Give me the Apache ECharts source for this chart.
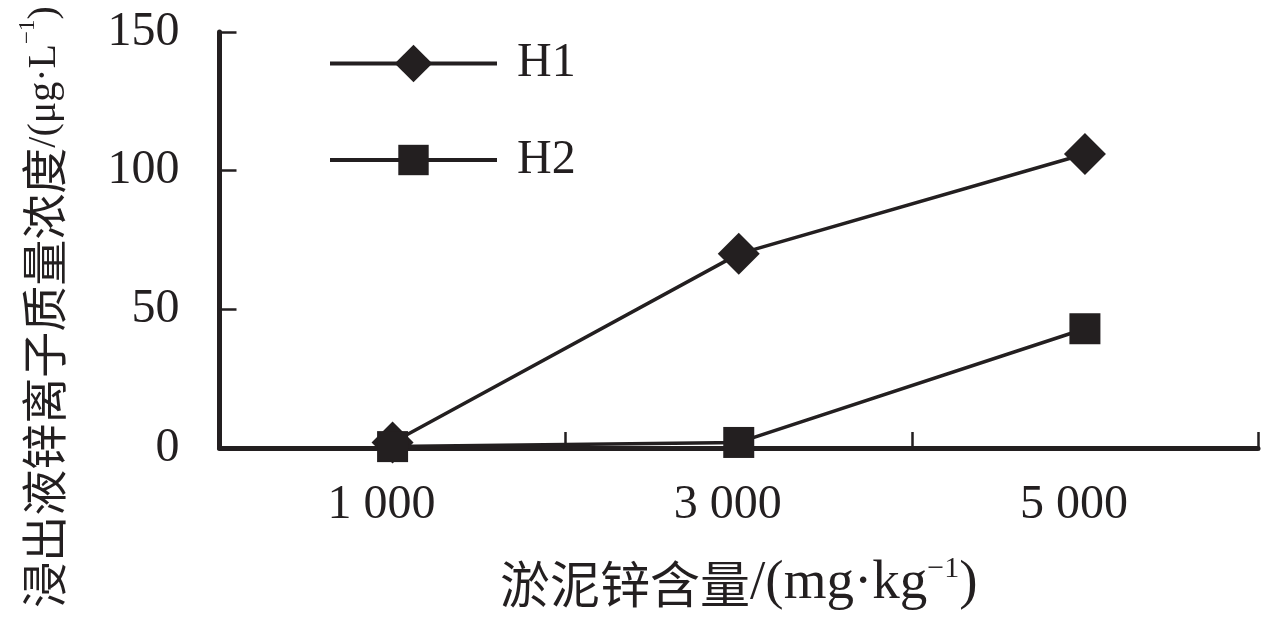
<!DOCTYPE html>
<html>
<head>
<meta charset="utf-8">
<script src="https://cdn.jsdelivr.net/npm/echarts@6/dist/echarts.min.js"></script>
<style>html,body{margin:0;padding:0;background:#fff}#c{width:1280px;height:620px}</style>
</head>
<body>
<div id="c"></div>
<script>
const categories = ['1 000', '3 000', '5 000'];
const seriesNames = ['H1', 'H2'];
const h1Values = [2, 70, 106];
const h2Values = [0.5, 2, 43];
const yTicks = { min: 0, max: 150, interval: 50 };
const xAxisTitle = '{cn|淤泥锌含量}{en|/(mg·kg}{sup|−1}{en|)}';
const yAxisTitle = '{cn|浸出液锌离子质量浓度}{en|/(μg·L}{sup|−1}{en|)}';

const INK = '#231f20';
const FONT = "'Liberation Serif', 'Noto Sans CJK SC', serif";
const CJK = "'Noto Sans CJK SC', 'Liberation Serif', serif";
const xRich = {
  cn: { fontSize: 50, fontFamily: CJK, color: INK, lineHeight: 60 },
  en: { fontSize: 55, fontFamily: FONT, color: INK, lineHeight: 60 },
  sup: { fontSize: 30, fontFamily: FONT, color: INK, verticalAlign: 'top', lineHeight: 40 }
};
const yRich = {
  cn: { fontSize: 46, fontFamily: CJK, fill: INK, lineHeight: 56 },
  en: { fontSize: 40, fontFamily: FONT, fill: INK, lineHeight: 56 },
  sup: { fontSize: 23, fontFamily: FONT, fill: INK, verticalAlign: 'top', lineHeight: 34 }
};

const chart = echarts.init(document.getElementById('c'), null, { renderer: 'canvas' });
chart.setOption({
  animation: false,
  backgroundColor: '#fff',
  textStyle: { fontFamily: FONT, color: INK },
  grid: { left: 219.5, right: 22, top: 32, bottom: 172, containLabel: false, outerBoundsMode: 'none' },
  legend: [
    {
      data: [seriesNames[0]], left: 328, top: 39.5, orient: 'vertical', padding: 0,
      itemWidth: 167, itemHeight: 47,
      textStyle: { fontSize: 48, fontFamily: FONT, color: INK, padding: [0, 0, 0, 15] },
      itemStyle: { color: INK }, lineStyle: { width: 4, color: INK }
    },
    {
      data: [seriesNames[1]], left: 328, top: 136, orient: 'vertical', padding: 0,
      itemWidth: 167, itemHeight: 38,
      textStyle: { fontSize: 48, fontFamily: FONT, color: INK, padding: [0, 0, 0, 15] },
      itemStyle: { color: INK }, lineStyle: { width: 4, color: INK }
    }
  ],
  graphic: [
    {
      type: 'text',
      x: 44, y: 307,
      rotation: Math.PI / 2,
      style: {
        text: yAxisTitle,
        rich: yRich,
        fill: INK,
        align: 'center',
        verticalAlign: 'middle'
      }
    }
  ],
  xAxis: {
    type: 'category',
    data: categories,
    boundaryGap: true,
    axisLine: { lineStyle: { color: INK, width: 5 } },
    axisTick: { show: true, inside: true, length: 16, lineStyle: { color: INK, width: 2.5 } },
    axisLabel: { fontSize: 48, fontFamily: FONT, color: INK, margin: 33, padding: [0, 22, 0, 0] },
    name: xAxisTitle,
    nameLocation: 'middle',
    nameGap: 106,
    nameTextStyle: { rich: xRich }
  },
  yAxis: {
    type: 'value',
    min: yTicks.min, max: yTicks.max, interval: yTicks.interval,
    splitLine: { show: false },
    axisLine: { show: true, lineStyle: { color: INK, width: 5 } },
    axisTick: { show: true, inside: true, length: 17, lineStyle: { color: INK, width: 2.5 } },
    axisLabel: { fontSize: 48, fontFamily: FONT, color: INK, margin: 40, padding: [0, 0, 8, 0] }
  },
  series: [
    {
      name: seriesNames[0], type: 'line', data: h1Values,
      symbol: 'diamond', symbolSize: 42, showSymbol: true,
      lineStyle: { color: INK, width: 3.5 }, itemStyle: { color: INK }, z: 2
    },
    {
      name: seriesNames[1], type: 'line', data: h2Values,
      symbol: 'rect', symbolSize: 31, showSymbol: true,
      lineStyle: { color: INK, width: 3.5 }, itemStyle: { color: INK }, z: 3
    }
  ]
});
</script>
</body>
</html>
